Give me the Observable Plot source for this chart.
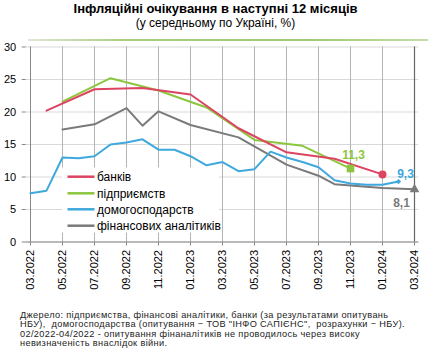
<!DOCTYPE html>
<html><head><meta charset="utf-8">
<script src="https://cdn.jsdelivr.net/npm/d3@7"></script>
<script src="https://cdn.jsdelivr.net/npm/@observablehq/plot@0.6"></script>
<style>
body{margin:0;background:#fff;font-family:"Liberation Sans",Arial,sans-serif;}
#wrap{position:relative;width:431px;height:364px;overflow:hidden;background:#fff;}
#chart{position:absolute;left:0;top:0;}
#title{position:absolute;left:0;width:431px;top:2px;text-align:center;font-weight:bold;font-size:13px;line-height:13px;color:#000;white-space:nowrap;}
#subtitle{position:absolute;left:0;width:431px;top:17px;text-align:center;font-size:12px;line-height:12px;color:#000;white-space:nowrap;}
#rule{position:absolute;left:28px;top:39px;width:400px;height:2px;background:linear-gradient(to right,#dfe6d6 0%,#a8ce7c 25%,#9fca72 70%,#c4dea6 100%);}
#caption{position:absolute;left:20px;top:311px;font-size:9.2px;line-height:9.4px;letter-spacing:0.35px;color:#222;white-space:nowrap;}
</style></head><body>
<div id="wrap">
  <div id="chart"></div>
  <div id="title">Інфляційні очікування в наступні 12 місяців</div>
  <div id="subtitle">(у середньому по Україні, %)</div>
  <div id="rule"></div>
  <div id="caption">Джерело: підприємства, фінансові аналітики, банки (за результатами опитувань<br>НБУ),&nbsp; домогосподарства (опитування − ТОВ "ІНФО САПІЄНС",&nbsp; розрахунки − НБУ).<br>02/2022-04/2022 - опитування фінаналітиків не проводилось через високу<br>невизначеність внаслідок війни.</div>
</div>
<script>
// Month categories (x axis)
const months = ["03.2022","04.2022","05.2022","06.2022","07.2022","08.2022","09.2022","10.2022","11.2022","12.2022","01.2023","02.2023","03.2023","04.2023","05.2023","06.2023","07.2023","08.2023","09.2023","10.2023","11.2023","12.2023","01.2024","02.2024","03.2024"];
const xTickLabels = ["03.2022","05.2022","07.2022","09.2022","11.2022","01.2023","03.2023","05.2023","07.2023","09.2023","11.2023","01.2024","03.2024"];
const yTicks = [0,5,10,15,20,25,30];

// Banks
const bankMonths = ["04.2022","07.2022","10.2022","01.2023","04.2023","07.2023","10.2023","01.2024"];
const bankValues = [20.2,23.5,23.7,22.7,17.5,13.8,12.8,10.4];
// Enterprises
const firmMonths = ["05.2022","08.2022","11.2022","02.2023","05.2023","08.2023","11.2023"];
const firmValues = [21.6,25.2,23.3,20.7,15.7,14.8,11.3];
// Households (monthly)
const hhMonths = months.slice(0,24);
const hhValues = [7.5,7.9,13.0,12.9,13.2,15.0,15.3,15.8,14.2,14.2,13.2,11.8,12.3,10.9,11.2,13.9,13.0,12.3,11.5,9.5,9.0,8.8,8.8,9.3];
// Financial analysts
const anMonths = ["05.2022","07.2022","09.2022","10.2022","11.2022","01.2023","04.2023","07.2023","09.2023","10.2023","01.2024","03.2024"];
const anValues = [17.3,18.1,20.6,17.9,20.1,18.0,16.1,11.9,10.2,8.9,8.3,8.1];

const seriesNames = ["банків","підприємств","домогосподарств","фінансових аналітиків"];
const seriesColors = ["#dc4462","#8cc63e","#3fa8dc","#7a7a7a"];

const rows = (ms, vs) => ms.map((m,i)=>({m, v: vs[i]}));
const banks = rows(bankMonths, bankValues);
const firms = rows(firmMonths, firmValues);
const hh = rows(hhMonths, hhValues);
const an = rows(anMonths, anValues);
const lastOf = a => [a[a.length-1]];
const fmt = d => String(d.v).replace(".", ",");

const chart = Plot.plot({
  width: 431, height: 300,
  marginTop: 46.5, marginBottom: 58.5, marginLeft: 25.7, marginRight: 12.7,
  x: {type: "point", domain: months, padding: 0, axis: null},
  y: {domain: [0,30], axis: null},
  style: {fontFamily: "Liberation Sans, Arial, sans-serif", fontSize: "11px", color: "#000", background: "transparent"},
  marks: [
    Plot.gridY(yTicks, {stroke: "#d9d9d9", strokeOpacity: 1}),
    Plot.gridX(xTickLabels, {stroke: "#b4b4b4", strokeOpacity: 1}),
    Plot.ruleX([months[months.length-1]], {stroke: "#666", strokeWidth: 1.2}),
    Plot.ruleX([months[0]], {stroke: "#888"}),
    Plot.ruleY([0], {stroke: "#888"}),
    Plot.axisY(yTicks, {label: null, tickSize: 4, tickPadding: 6, stroke: "#888", fill: "#000", fontSize: 11}),
    Plot.axisX(xTickLabels, {label: null, tickSize: 4, tickPadding: 4, tickRotate: -90, stroke: "#888", fill: "#000", fontSize: 11}),
    Plot.line(an, {x: "m", y: "v", stroke: seriesColors[3], strokeWidth: 2}),
    Plot.line(hh, {x: "m", y: "v", stroke: seriesColors[2], strokeWidth: 2}),
    Plot.line(firms, {x: "m", y: "v", stroke: seriesColors[1], strokeWidth: 2}),
    Plot.line(banks, {x: "m", y: "v", stroke: seriesColors[0], strokeWidth: 2}),
    Plot.dot(lastOf(banks), {x: "m", y: "v", r: 4, fill: seriesColors[0], symbol: "circle"}),
    Plot.dot(lastOf(firms), {x: "m", y: "v", r: 4.3, fill: seriesColors[1], symbol: "square"}),
    Plot.dot(lastOf(hh), {x: "m", y: "v", r: 2.4, fill: seriesColors[2], symbol: "diamond2"}),
    Plot.dot(lastOf(an), {x: "m", y: "v", r: 3.6, fill: seriesColors[3], symbol: "triangle"}),
    Plot.text(lastOf(firms), {x: "m", y: "v", text: fmt, dx: 3, dy: -13, fill: seriesColors[1], fontWeight: "bold", fontSize: 12}),
    Plot.text(lastOf(hh), {x: "m", y: "v", text: fmt, dx: 7, dy: -7, fill: seriesColors[2], fontWeight: "bold", fontSize: 12}),
    Plot.text(lastOf(an), {x: "m", y: "v", text: fmt, dx: -13, dy: 14, fill: seriesColors[3], fontWeight: "bold", fontSize: 12})
  ]
});
document.getElementById("chart").appendChild(chart);

// Legend box inside plot area
const svg = d3.select(chart);
const lg = svg.append("g").attr("transform", "translate(62,167.5)");
lg.append("rect").attr("width", 157).attr("height", 65).attr("fill", "#fff");
const rowY = [9.2, 25.8, 41.8, 58.2];
seriesNames.forEach((n, i) => {
  lg.append("path").attr("d", `M5.5,${rowY[i]}H32.5`)
    .attr("fill", "none").attr("stroke", seriesColors[i]).attr("stroke-width", 2.5);
  lg.append("text").attr("x", 35).attr("y", rowY[i]).attr("dy", "0.36em")
    .attr("text-anchor", "start").attr("font-size", 12).attr("fill", "#000").text(n);
});
</script>
</body></html>
